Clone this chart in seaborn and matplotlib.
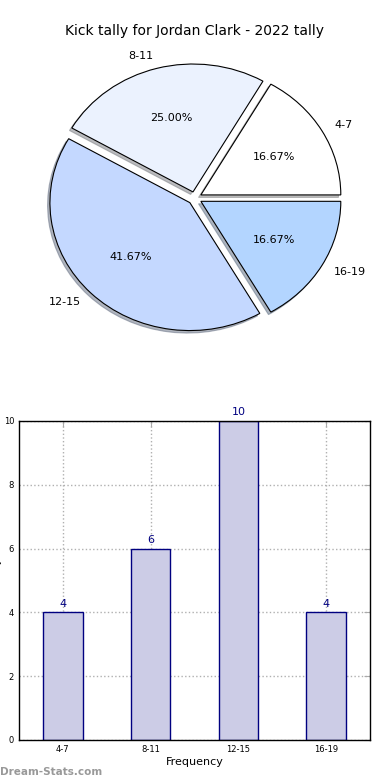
import matplotlib
matplotlib.use("Agg")
import matplotlib.pyplot as plt
import seaborn as sns
import pandas as pd

categories = ["4-7", "8-11", "12-15", "16-19"]
counts = [4, 6, 10, 4]
pie_colors = ["#ffffff", "#ebf2fe", "#c4d8ff", "#b3d5ff"]
title = "Kick tally for Jordan Clark - 2022 tally"
yticks = [0, 2, 4, 6, 8, 10]

sns.set_style("white")
plt.rcParams["font.family"] = ["DejaVu Sans"]
plt.rcParams["text.color"] = "black"
plt.rcParams["axes.labelcolor"] = "black"
plt.rcParams["xtick.color"] = "black"
plt.rcParams["ytick.color"] = "black"

fig = plt.figure(figsize=(3.9, 7.8), dpi=100)

# Pie chart
ax1 = fig.add_axes([0.051, 0.541, 0.897, 0.410])
wedges, texts, autotexts = ax1.pie(
    counts, labels=categories, colors=pie_colors, autopct="%.2f%%",
    startangle=0, counterclock=True, explode=[0.05] * 4,
    shadow=dict(ox=-0.012, oy=-0.014, shade=0.5),
    wedgeprops=dict(edgecolor="black", linewidth=0.8),
    textprops=dict(fontsize=8, color="black"), labeldistance=1.1, pctdistance=0.6,
)
ax1.set_aspect("auto")
ax1.set_xlim(-1.25, 1.25)
ax1.set_ylim(-1.25, 1.25)
ax1.set_title(title, fontsize=10, pad=-1, color="black")

# Bar chart
ax2 = fig.add_axes([0.0487, 0.0513, 0.9, 0.409])
df = pd.DataFrame({"cat": categories, "count": counts})
sns.barplot(data=df, x="cat", y="count", color="#ccccE6", saturation=1,
            width=0.45, edgecolor="#000080", linewidth=1, ax=ax2, zorder=2)
ax2.set_xlim(-0.5, 3.5)
ax2.set_ylim(0, 10)
ax2.set_yticks(yticks)
ax2.grid(True, color="#b0b0b0", linestyle=":", linewidth=1, zorder=0)
ax2.set_axisbelow(True)
for i, v in enumerate(counts):
    ax2.text(i, v + 0.12, str(v), ha="center", va="bottom", color="#000080", fontsize=8)
ax2.tick_params(axis="both", labelsize=6, direction="in", length=4, color="#aaaaaa",
                labelcolor="black", top=True, right=True)
for s in ax2.spines.values():
    s.set_color("black")
    s.set_linewidth(1)
ax2.set_xlabel("Frequency", fontsize=8, labelpad=2)
ax2.set_ylabel("Kick Tally", fontsize=7, labelpad=1)

fig.text(0.0, 0.004, "Dream-Stats.com", color="#999999", fontsize=7.5,
         fontweight="bold", ha="left", va="bottom")

fig.savefig("out.png", dpi=100)
